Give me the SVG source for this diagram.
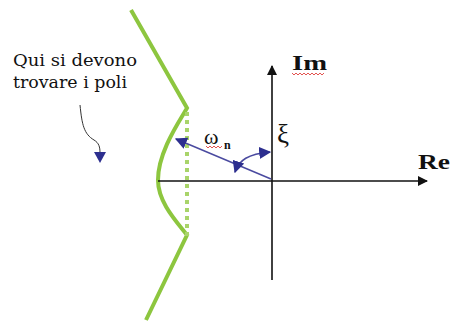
<svg xmlns="http://www.w3.org/2000/svg" width="451" height="324" viewBox="0 0 451 324">
<defs>
<style>
.ax{stroke:#111;stroke-width:1.6;fill:none}
.green{stroke:#8dc63f;stroke-width:4;fill:none;stroke-linejoin:miter}
.dots{stroke:#a9d46a;stroke-width:4;fill:none;stroke-dasharray:4 4}
.blue{stroke:#4a4aa0;stroke-width:1.6;fill:none}
.lbl{font-family:"Liberation Serif","Times New Roman",serif;fill:#111}
.slab{font-family:"DejaVu Serif","Liberation Serif",serif;fill:#111}
.wavy{stroke:#e0403c;stroke-width:0.9;fill:none}
</style>
<marker id="ah" viewBox="0 0 10 10" refX="9" refY="5" markerWidth="10" markerHeight="10" markerUnits="userSpaceOnUse" orient="auto"><path d="M0,0 L10,5 L0,10 z" fill="#111"/></marker>
<marker id="bh" viewBox="0 0 10 10" refX="9" refY="5" markerWidth="12" markerHeight="12" markerUnits="userSpaceOnUse" orient="auto-start-reverse"><path d="M0,0 L10,5 L0,10 z" fill="#2d2f8f"/></marker>
</defs>
<rect width="451" height="324" fill="#fff"/>
<g id="curve">
<path class="green" d="M131,10 L187,108 C179,122 158,152 158,180 C158,202 176,221 187,235 L146,320"/>
<path class="dots" d="M187,112 L187,236"/>
</g>
<g id="connectors">
<path class="ax" d="M158,181 L427,181" marker-end="url(#ah)"/>
<path class="ax" d="M272,280 L272,66" marker-end="url(#ah)"/>
<path class="blue" d="M271,179 L176,139" marker-end="url(#bh)"/>
<path class="blue" d="M235,172 C239,160 248,154 270,152" marker-start="url(#bh)" marker-end="url(#bh)"/>
<path d="M80,105 C82,125 84,134 94,140 C99,143 100,147 100,153" stroke="#333" stroke-width="1" fill="none"/>
<path d="M94,152 L106,152 L100,163 z" fill="#2d2f8f"/>
</g>
<g id="label-poli">
<text class="slab" x="13" y="66" font-size="16" textLength="124" lengthAdjust="spacingAndGlyphs">Qui si devono</text>
<text class="slab" x="13" y="88" font-size="16" textLength="114" lengthAdjust="spacingAndGlyphs">trovare i poli</text>
</g>
<g id="label-im">
<text class="lbl" x="292" y="70" font-size="22" font-weight="bold" textLength="35" lengthAdjust="spacingAndGlyphs">Im</text>
<path class="wavy" d="M292,73 l2,2 l2,-2 l2,2 l2,-2 l2,2 l2,-2 l2,2 l2,-2 l2,2 l2,-2 l2,2 l2,-2 l2,2 l2,-2 l2,2 l2,-2"/>
</g>
<g id="label-re">
<text class="lbl" x="418" y="169" font-size="22" font-weight="bold" textLength="32" lengthAdjust="spacingAndGlyphs">Re</text>
</g>
<g id="label-xi">
<text class="lbl" x="277" y="143" font-size="27">ξ</text>
</g>
<g id="label-omega">
<text class="lbl" x="204" y="144" font-size="22">ω</text>
<text class="lbl" x="224" y="149" font-size="12" font-weight="bold">n</text>
<path class="wavy" d="M206,146 l2,2 l2,-2 l2,2 l2,-2 l2,2 l2,-2 l2,2 l2,-2"/>
</g>
</svg>
